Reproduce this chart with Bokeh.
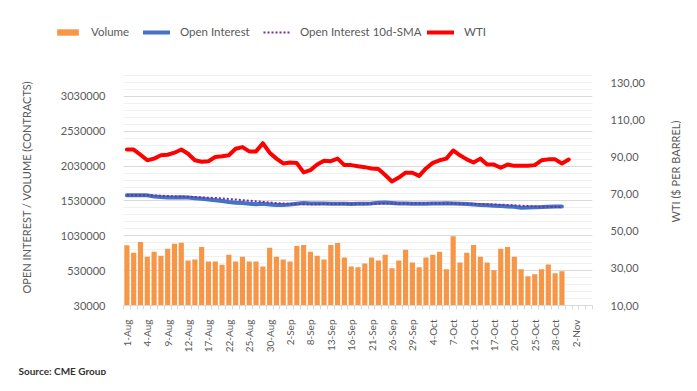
from math import pi
from bokeh.plotting import figure
from bokeh.layouts import column, row
from bokeh.models import (Range1d, LinearAxis, FixedTicker, Legend, LegendItem,
                          Label, NumeralTickFormatter)
from bokeh.embed import file_html
from bokeh.resources import INLINE

dates = ["1-Aug", "2-Aug", "3-Aug", "4-Aug", "5-Aug", "8-Aug", "9-Aug", "10-Aug", "11-Aug", "12-Aug",
         "15-Aug", "16-Aug", "17-Aug", "18-Aug", "19-Aug", "22-Aug", "23-Aug", "24-Aug", "25-Aug", "26-Aug",
         "29-Aug", "30-Aug", "31-Aug", "1-Sep", "2-Sep", "6-Sep", "7-Sep", "8-Sep", "9-Sep", "12-Sep",
         "13-Sep", "14-Sep", "15-Sep", "16-Sep", "19-Sep", "20-Sep", "21-Sep", "22-Sep", "23-Sep", "26-Sep",
         "27-Sep", "28-Sep", "29-Sep", "30-Sep", "3-Oct", "4-Oct", "5-Oct", "6-Oct", "7-Oct", "10-Oct",
         "11-Oct", "12-Oct", "13-Oct", "14-Oct", "17-Oct", "18-Oct", "19-Oct", "20-Oct", "21-Oct", "24-Oct",
         "25-Oct", "26-Oct", "27-Oct", "28-Oct", "31-Oct", "1-Nov", "2-Nov", "3-Nov", "4-Nov"]

volume = [895000, 787000, 941000, 731000, 801000, 745000, 843000, 917000, 931000, 675000,
          689000, 871000, 661000, 661000, 614000, 759000, 661000, 731000, 661000, 661000,
          591000, 857000, 731000, 689000, 661000, 885000, 899000, 801000, 745000, 689000,
          899000, 927000, 717000, 591000, 577000, 633000, 717000, 675000, 759000, 563000,
          675000, 829000, 647000, 577000, 717000, 759000, 801000, 549000, 1025000, 647000,
          787000, 899000, 731000, 647000, 535000, 843000, 871000, 731000, 549000, 451000,
          479000, 549000, 619000, 493000, 521000]

open_interest = [1610000, 1612000, 1612000, 1610000, 1595000, 1585000, 1580000, 1578000, 1582000, 1578000,
                 1568000, 1560000, 1550000, 1540000, 1528000, 1515000, 1505000, 1500000, 1490000, 1482000,
                 1488000, 1480000, 1472000, 1470000, 1478000, 1490000, 1500000, 1495000, 1492000, 1492000,
                 1490000, 1490000, 1488000, 1486000, 1488000, 1490000, 1495000, 1505000, 1508000, 1502000,
                 1495000, 1492000, 1490000, 1490000, 1490000, 1492000, 1495000, 1497000, 1495000, 1490000,
                 1485000, 1478000, 1470000, 1468000, 1462000, 1458000, 1450000, 1445000, 1432000, 1436000,
                 1440000, 1442000, 1448000, 1450000, 1450000]

oi_sma = [1610000, 1611000, 1611000, 1611000, 1608000, 1604000, 1600000, 1596000, 1593000, 1590000,
          1586000, 1581000, 1576000, 1572000, 1566000, 1558000, 1550000, 1542000, 1533000, 1524000,
          1516000, 1508000, 1500000, 1493000, 1488000, 1485000, 1484000, 1484000, 1484000, 1485000,
          1486000, 1487000, 1489000, 1491000, 1491000, 1490000, 1490000, 1491000, 1493000, 1494000,
          1494000, 1494000, 1494000, 1494000, 1494000, 1494000, 1494000, 1493000, 1492000, 1491000,
          1490000, 1488000, 1486000, 1483000, 1479000, 1476000, 1472000, 1467000, 1461000, 1456000,
          1451000, 1448000, 1445000, 1444000, 1444000]

wti = [94.1, 94.1, 91.3, 88.3, 89.2, 91.0, 91.3, 92.4, 94.1, 91.8,
       88.3, 87.5, 87.8, 90.1, 90.5, 91.0, 94.5, 95.4, 93.1, 93.1,
       97.5, 92.4, 89.2, 86.6, 87.1, 86.8, 81.8, 83.0, 86.0, 88.0,
       87.8, 89.2, 85.7, 85.7, 85.1, 84.6, 83.9, 83.6, 80.4, 76.9,
       79.0, 81.6, 81.6, 79.9, 83.9, 86.9, 88.3, 89.2, 93.6, 91.0,
       88.8, 87.1, 89.2, 86.0, 86.0, 84.3, 86.0, 85.3, 85.3, 85.3,
       85.7, 88.3, 88.8, 88.8, 86.6, 88.7]

left_ticks = [30000, 530000, 1030000, 1530000, 2030000, 2530000, 3030000]
right_ticks = [10, 30, 50, 70, 90, 110, 130]
right_tick_labels = ["10,00", "30,00", "50,00", "70,00", "90,00", "110,00", "130,00"]
legend_labels = ["Volume", "Open Interest", "Open Interest 10d-SMA", "WTI"]
left_title = "OPEN INTEREST / VOLUME (CONTRACTS)"
right_title = "WTI ($ PER BARREL)"
source_text = "Source: CME Group"

FONT = "Lato"
TXT = "#595959"
C_VOL, C_OI, C_SMA, C_WTI = "#F79646", "#4472C4", "#7030A0", "#FF0000"
W = 681
MAIN_W = 660


def no_align(fig):
    if "frame_align" in fig.properties():
        fig.frame_align = False


# ---------------- legend strip ----------------
lf = figure(width=W, height=50, output_backend="svg", toolbar_location=None,
            x_range=Range1d(0, 1), y_range=Range1d(0, 1), x_axis_type=None, y_axis_type=None,
            min_border=0)
no_align(lf)
lf.outline_line_color = None
l_vol = lf.vbar(x=[5, 6], top=[5, 5], width=0.5, fill_color=C_VOL, line_color=None)
l_oi = lf.line([5, 6], [5, 5], line_color=C_OI, line_width=4, line_cap="round")
l_sma = lf.line([5, 6], [5, 5], line_color=C_SMA, line_width=2, line_dash="2 2")
l_wti = lf.line([5, 6], [5, 5], line_color=C_WTI, line_width=4, line_cap="round")
legend_x = [54, 143, 263, 427]
for lab, r, lx in zip(legend_labels, [l_vol, l_oi, l_sma, l_wti], legend_x):
    lg = Legend(items=[LegendItem(label=lab, renderers=[r])],
                orientation="horizontal", location=(lx, 12), glyph_width=27, glyph_height=8,
                label_standoff=10, spacing=0, padding=0, margin=0,
                border_line_color=None, background_fill_alpha=0,
                label_text_font=FONT, label_text_font_size="11.5px", label_text_color=TXT)
    lf.add_layout(lg, "center")

# ---------------- main chart ----------------
n_cat = len(dates)
p = figure(width=MAIN_W, height=305, output_backend="svg", toolbar_location=None,
           x_range=Range1d(-0.5, n_cat - 0.5), y_range=Range1d(30000, 3430000),
           min_border_left=123, min_border_right=MAIN_W - 592, min_border_top=18, min_border_bottom=45)
no_align(p)
p.outline_line_color = None
p.xgrid.grid_line_color = None
p.extra_y_ranges = {"wti": Range1d(10, 137.8)}

p.vbar(x=list(range(len(volume))), top=volume, bottom=30000, width=0.76,
       fill_color=C_VOL, line_color=None)
p.line(list(range(len(open_interest))), open_interest, line_color=C_OI, line_width=4,
       line_cap="round", line_join="round")
p.line(list(range(len(oi_sma))), oi_sma, line_color=C_SMA, line_width=2, line_dash="2 2")
p.line(list(range(len(wti))), wti, line_color=C_WTI, line_width=4, y_range_name="wti",
       line_cap="round", line_join="round")

lt = FixedTicker(ticks=left_ticks, minor_ticks=[30000 + 100000 * k for k in range(35)])
yax = p.yaxis[0]
yax.ticker = lt
yax.formatter = NumeralTickFormatter(format="0")
yax.axis_line_color = None
yax.major_tick_line_color = None
yax.minor_tick_line_color = None
yax.major_label_text_font = FONT
yax.major_label_text_font_size = "11px"
yax.major_label_text_color = TXT
yax.major_label_standoff = 12
yax.axis_label = left_title
yax.axis_label_text_font = FONT
yax.axis_label_text_font_size = "11px"
yax.axis_label_text_font_style = "normal"
yax.axis_label_text_color = TXT
yax.axis_label_standoff = 25
p.ygrid.ticker = lt
p.ygrid.grid_line_color = "#D9D9D9"
p.ygrid.minor_grid_line_color = "#F0F0F0"

rax = LinearAxis(y_range_name="wti", ticker=FixedTicker(ticks=right_ticks),
                 major_label_overrides=dict(zip(right_ticks, right_tick_labels)))
rax.axis_line_color = None
rax.major_tick_line_color = None
rax.minor_tick_line_color = None
rax.major_label_text_font = FONT
rax.major_label_text_font_size = "11px"
rax.major_label_text_color = TXT
rax.major_label_standoff = 12
p.add_layout(rax, "right")

xax = p.xaxis[0]
xax.ticker = FixedTicker(ticks=list(range(0, n_cat, 3)), minor_ticks=[i - 0.5 for i in range(n_cat + 1)])
xax.major_label_overrides = {i: dates[i] for i in range(0, n_cat, 3)}
xax.major_label_orientation = pi / 2
xax.major_label_text_font = FONT
xax.major_label_text_font_size = "10px"
xax.major_label_text_color = TXT
xax.major_label_standoff = 8
xax.axis_line_color = "#D9D9D9"
xax.major_tick_line_color = None
xax.minor_tick_line_color = "#D9D9D9"
xax.minor_tick_in = 0
xax.minor_tick_out = 4

# ---------------- right title strip ----------------
RW = W - MAIN_W
rf = figure(width=RW, height=305, output_backend="svg", toolbar_location=None,
            x_range=Range1d(0, RW), y_range=Range1d(0, 305), x_axis_type=None, y_axis_type=None,
            min_border=0)
no_align(rf)
rf.outline_line_color = None
rf.add_layout(Label(x=675 - MAIN_W, y=355 - 171, text=right_title, angle=pi / 2,
                    text_align="center", text_baseline="middle", text_font=FONT,
                    text_font_size="11px", text_color=TXT))

# ---------------- source strip ----------------
sf = figure(width=W, height=20, output_backend="svg", toolbar_location=None,
            x_range=Range1d(0, W), y_range=Range1d(0, 20), x_axis_type=None, y_axis_type=None,
            min_border=0)
no_align(sf)
sf.outline_line_color = None
sf.add_layout(Label(x=18, y=5, text=source_text, text_align="left", text_baseline="middle",
                    text_font=FONT, text_font_size="10px", text_font_style="bold",
                    text_color="#333333"))

layout = column(lf, row(p, rf, spacing=0), sf, spacing=0)
open("out.html", "w").write(file_html(layout, INLINE))
